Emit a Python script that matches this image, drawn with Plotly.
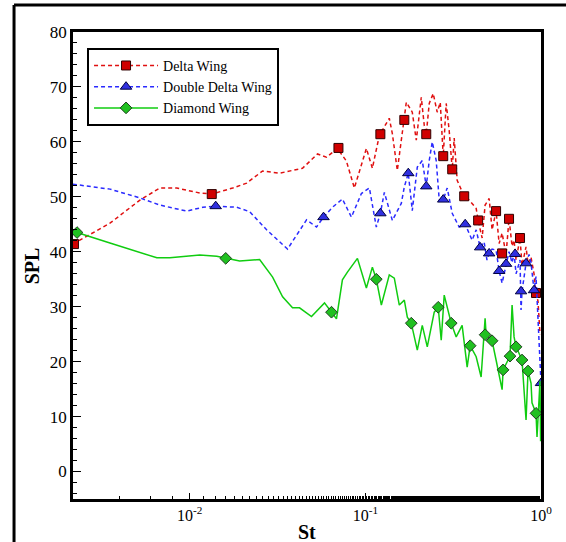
import plotly.graph_objects as go

# ---- spectra: Strouhal number vs SPL ----
delta_st = [0.00216, 0.00351, 0.00520, 0.00675, 0.00843, 0.0114, 0.01334, 0.01755, 0.02108, 0.02598,
            0.03245, 0.04384, 0.05336, 0.06004, 0.06933, 0.07799, 0.08654, 0.09246, 0.1013, 0.1096,
            0.1201, 0.1368, 0.1424, 0.1520, 0.1601, 0.1666, 0.1710, 0.1849, 0.1949, 0.2081,
            0.2164, 0.2221, 0.2310, 0.2434, 0.2564, 0.2669, 0.2739, 0.2775, 0.2885, 0.3000,
            0.3122, 0.3204, 0.3332, 0.3653, 0.3898, 0.4274, 0.4386, 0.4622, 0.4805, 0.5066,
            0.5267, 0.5549, 0.5775, 0.6005, 0.6325, 0.6577, 0.6844, 0.7025, 0.7211, 0.7596,
            0.7797, 0.8219, 0.8437, 0.8774, 0.9125, 0.9367, 0.9615, 0.9742, 0.987]
delta_spl = [41.4, 45.2, 49.4, 51.6, 51.6, 50.7, 50.5, 51.6, 52.5, 54.7,
             54.3, 55.2, 57.8, 57.2, 58.8, 56.5, 51.6, 54.8, 58.8, 55.2,
             61.2, 64.3, 61.5, 54.8, 60.6, 64.0, 67.2, 65.4, 60.3, 68.1,
             63.0, 61.4, 67.0, 68.8, 65.4, 67.2, 60.3, 57.4, 67.0, 62.1,
             55.0, 60.7, 53.0, 50.1, 49.4, 47.9, 45.7, 42.5, 48.5, 49.7,
             44.0, 47.4, 41.5, 43.4, 39.5, 46.0, 41.0, 42.1, 38.5, 42.5,
             37.5, 40.9, 37.8, 39.0, 36.0, 32.5, 31.0, 28.0, 25.0]

ddelta_st = [0.00216, 0.00351, 0.0052, 0.00675, 0.00962, 0.01186, 0.01405, 0.0185, 0.02193, 0.02738,
             0.03604, 0.04623, 0.05267, 0.05773, 0.06495, 0.07398, 0.08324, 0.09489, 0.1054, 0.1154,
             0.1217, 0.1282, 0.1424, 0.1601, 0.1666, 0.1755, 0.1849, 0.1975, 0.2108, 0.2221,
             0.2310, 0.2403, 0.2531, 0.2634, 0.2775, 0.2923, 0.3122, 0.3420, 0.3701, 0.4054,
             0.4274, 0.4502, 0.4743, 0.4925, 0.5066, 0.5267, 0.5549, 0.5775, 0.6005, 0.6325,
             0.6577, 0.6844, 0.7025, 0.7211, 0.7596, 0.7697, 0.7797, 0.8219, 0.8549, 0.8774,
             0.9125, 0.9367, 0.9615, 0.9742, 0.987, 1.0]
ddelta_spl = [52.3, 51.4, 49.8, 48.5, 47.4, 48.1, 48.3, 48.1, 47.3, 44.0,
              40.5, 45.8, 44.5, 46.3, 48.1, 49.6, 46.3, 50.6, 51.6, 44.5,
              47.0, 50.8, 45.7, 48.8, 51.8, 54.3, 47.5, 55.4, 56.6, 51.9,
              56.6, 60.0, 56.6, 49.4, 49.5, 51.6, 47.0, 44.5, 45.0, 42.1,
              44.0, 40.8, 41.8, 38.5, 39.7, 40.5, 40.3, 36.5, 34.3, 37.8,
              40.0, 38.0, 39.7, 36.0, 38.5, 29.4, 32.8, 37.9, 39.5, 38.0,
              33.0, 35.5, 28.0, 22.0, 18.0, 16.1]

diamond_st = [0.00216, 0.00228, 0.00351, 0.00649, 0.0077, 0.0114, 0.01424, 0.01602, 0.01923, 0.02499,
              0.02963, 0.03377, 0.03847, 0.04217, 0.04933, 0.0585, 0.06411, 0.06843, 0.07398, 0.07901,
              0.09009, 0.1013, 0.1096, 0.1154, 0.1233, 0.1368, 0.1461, 0.1560, 0.1666, 0.1733,
              0.1825, 0.1975, 0.2108, 0.2251, 0.2466, 0.2598, 0.2703, 0.2811, 0.3082, 0.3289,
              0.3556, 0.3798, 0.3950, 0.4274, 0.4561, 0.4805, 0.4870, 0.5267, 0.5549, 0.6005,
              0.6084, 0.6663, 0.6844, 0.7025, 0.7211, 0.7797, 0.8219, 0.8437, 0.8774, 0.8887,
              0.9367, 0.9490, 0.9742, 0.987, 0.995]
diamond_spl = [43.9, 43.5, 41.6, 38.9, 38.9, 39.4, 39.2, 38.8, 38.3, 38.6,
               35.4, 31.8, 29.8, 29.8, 28.2, 30.7, 29.0, 27.8, 34.9, 36.3,
               38.8, 33.4, 37.2, 35.0, 30.3, 35.8, 35.2, 30.3, 31.2, 28.1,
               27.0, 22.1, 26.6, 22.7, 29.0, 29.9, 23.9, 32.1, 27.0, 24.5,
               26.6, 19.0, 22.9, 20.9, 17.2, 27.9, 24.9, 23.8, 20.3, 14.9,
               18.5, 21.0, 30.3, 24.5, 22.7, 20.3, 9.4, 18.3, 16.1, 12.5,
               10.6, 6.3, 13.0, 16.5, 5.5]

# symbol positions along each curve
delta_mk_st = [0.00219, 0.01334, 0.07023, 0.1217, 0.1666, 0.2221, 0.2775, 0.3122, 0.3653, 0.4386,
               0.5549, 0.6005, 0.6577, 0.7596, 0.9367]
delta_mk_spl = [41.4, 50.5, 58.9, 61.4, 64.0, 61.4, 57.4, 55.0, 50.1, 45.7,
                47.4, 39.7, 46.0, 42.5, 32.5]
ddelta_mk_st = [0.01405, 0.05773, 0.1217, 0.1755, 0.2221, 0.2775, 0.3701, 0.4502, 0.5066, 0.5775,
                0.6325, 0.7118, 0.7697, 0.8219, 0.9125, 1.0]
ddelta_mk_spl = [48.3, 46.3, 47.0, 54.3, 51.9, 49.5, 45.0, 40.8, 39.7, 36.5,
                 37.8, 39.6, 32.8, 37.9, 33.0, 16.1]
diamond_mk_st = [0.00228, 0.01602, 0.06411, 0.1154, 0.1825, 0.2598, 0.3082, 0.3950, 0.4805, 0.5267,
                 0.6084, 0.6663, 0.7211, 0.7797, 0.8437, 0.9367]
diamond_mk_spl = [43.5, 38.8, 29.0, 35.0, 27.0, 29.9, 27.0, 22.9, 24.9, 23.8,
                  18.5, 21.0, 22.7, 20.3, 18.3, 10.6]

series_names = ["Delta Wing", "Double Delta Wing", "Diamond Wing"]
y_ticks = [0, 10, 20, 30, 40, 50, 60, 70, 80]
x_ticks = [0.01, 0.1, 1]
x_tick_text = ["10<sup>-2</sup>", "10<sup>-1</sup>", "10<sup>0</sup>"]

FONT = "Liberation Serif, Times New Roman, serif"
styles = [
    dict(line=dict(color="#e01010", width=1.5, dash="4px,3px"),
         marker=dict(symbol="square", size=9, color="#d00000", line=dict(color="#300000", width=1))),
    dict(line=dict(color="#2a2aff", width=1.5, dash="4px,3px"),
         marker=dict(symbol="triangle-up", size=10, color="#3030e0", line=dict(color="#000040", width=1))),
    dict(line=dict(color="#10cc10", width=1.5, dash="solid"),
         marker=dict(symbol="diamond", size=9, color="#20c020", line=dict(color="#204020", width=1))),
]

curves = [(delta_st, delta_spl), (ddelta_st, ddelta_spl), (diamond_st, diamond_spl)]
marks = [(delta_mk_st, delta_mk_spl), (ddelta_mk_st, ddelta_mk_spl), (diamond_mk_st, diamond_mk_spl)]

fig = go.Figure()
for name, st, (cx, cy), (mx, my) in zip(series_names, styles, curves, marks):
    fig.add_trace(go.Scatter(x=cx, y=cy, mode="lines", line=st["line"],
                             showlegend=False, legendgroup=name, hoverinfo="skip"))
    fig.add_trace(go.Scatter(x=mx, y=my, mode="markers", marker=st["marker"],
                             showlegend=False, legendgroup=name))
    # legend key: line with symbol
    fig.add_trace(go.Scatter(x=[None], y=[None], mode="lines+markers", name=name,
                             line=st["line"], marker=st["marker"], legendgroup=name))

axis_common = dict(showline=True, linecolor="black", linewidth=2.5, mirror=True,
                   showgrid=False, zeroline=False, ticks="inside", tickcolor="black",
                   tickwidth=1)

fig.update_xaxes(type="log", range=[-2.665, 0], tickvals=x_ticks, ticktext=x_tick_text,
                 ticklen=6, tickfont=dict(family=FONT, size=16, color="black"),
                 minor=dict(ticks="inside", ticklen=3, tickcolor="black", showgrid=False),
                 **axis_common)
fig.update_yaxes(range=[-5, 80], tickvals=y_ticks, ticklen=8,
                 tickfont=dict(family=FONT, size=17, color="black"),
                 minor=dict(ticks="inside", ticklen=4, dtick=2, tickcolor="black", showgrid=False),
                 **axis_common)

fig.update_layout(
    width=566, height=542,
    margin=dict(l=73, r=25, t=32, b=43),
    paper_bgcolor="white", plot_bgcolor="white",
    font=dict(family=FONT, color="black"),
    legend=dict(x=0.03, y=0.966, xanchor="left", yanchor="top",
                bgcolor="white", bordercolor="black", borderwidth=2,
                font=dict(family=FONT, size=14, color="black"),
                itemwidth=64, tracegroupgap=0),
    annotations=[
        dict(text="<b>SPL</b>", xref="paper", yref="paper", x=-0.088, y=0.5,
             xanchor="center", yanchor="middle",
             textangle=-90, showarrow=False, font=dict(family=FONT, size=20)),
        dict(text="<b>St</b>", xref="paper", yref="paper", x=0.5, y=-0.07,
             xanchor="center", yanchor="middle", showarrow=False, font=dict(family=FONT, size=20)),
    ],
    shapes=[
        dict(type="line", xref="paper", yref="paper", x0=-0.126, x1=-0.126, y0=1.058, y1=-0.1,
             line=dict(color="black", width=3)),
        dict(type="line", xref="paper", yref="paper", x0=-0.126, x1=1.06, y0=1.058, y1=1.058,
             line=dict(color="black", width=3)),
    ],
)

fig.write_html("out.html")
